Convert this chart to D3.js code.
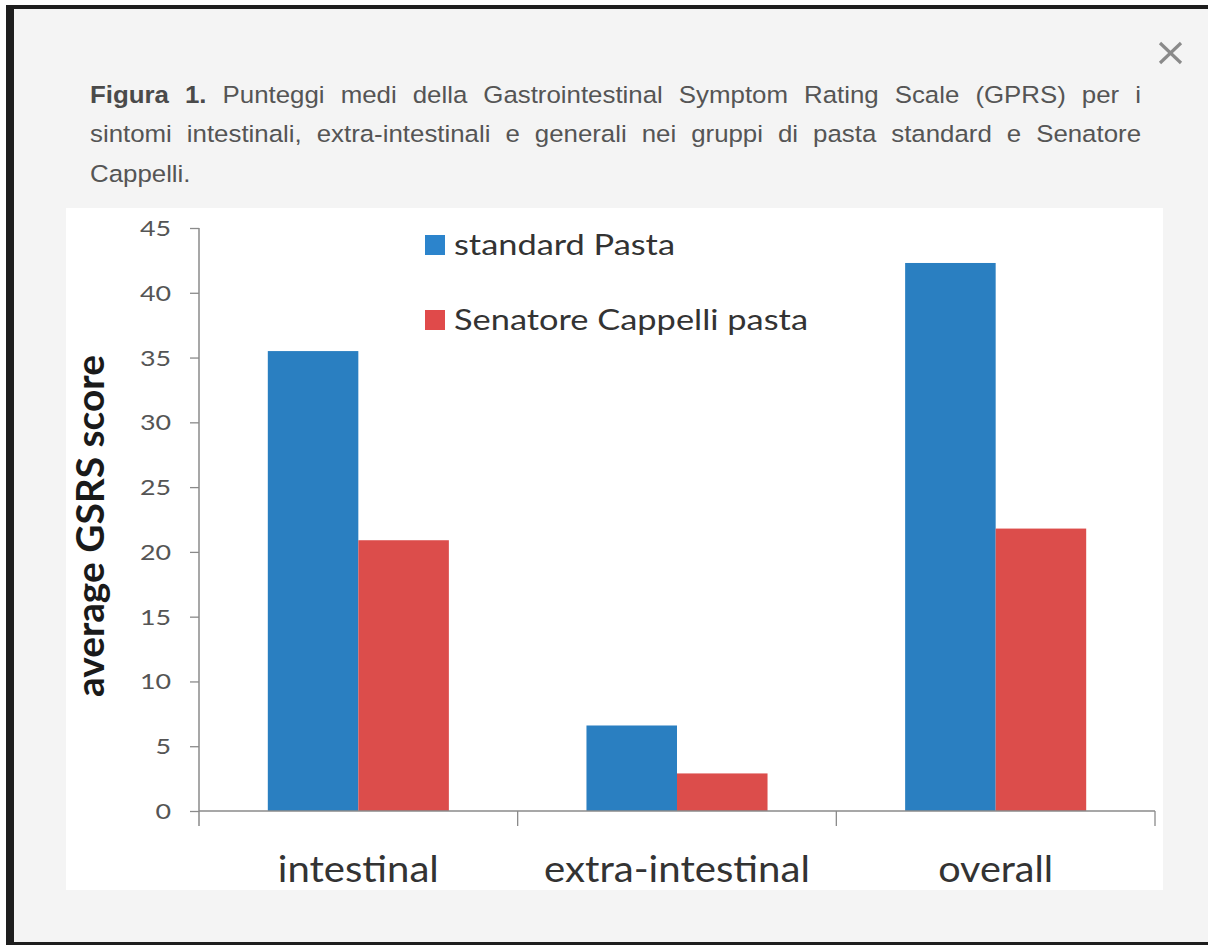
<!DOCTYPE html>
<html>
<head>
<meta charset="utf-8">
<script src="https://cdn.jsdelivr.net/npm/d3@7"></script>
<style>
  html, body { margin: 0; padding: 0; background: #ffffff; }
  svg { display: block; }
</style>
</head>
<body>
<svg id="fig" width="1208" height="945"></svg>
<script>
// ---- data ----
const categories = ["intestinal", "extra-intestinal", "overall"];
const seriesNames = ["standard Pasta", "Senatore Cappelli pasta"];
const standardPasta = [35.5, 6.6, 42.3];
const senatoreCappelli = [20.9, 2.9, 21.8];
const yTicks = [0, 5, 10, 15, 20, 25, 30, 35, 40, 45];
const yTitle = "average GSRS score";
const captionBold = "Figura 1.";
const captionLines = [
  " Punteggi medi della Gastrointestinal Symptom Rating Scale (GPRS) per i",
  "sintomi intestinali, extra-intestinali e generali nei gruppi di pasta standard e Senatore",
  "Cappelli."
];

// ---- styles ----
const seriesColors = ["#2a7fc1", "#dc4d4b"];
const legendColors = ["#2c84cc", "#e04a4a"];
const axisColor = "#8a8a8a";
const chartFont = "Lato, 'Open Sans', sans-serif";
const captionFont = "'Liberation Sans', Arial, sans-serif";

const svg = d3.select("#fig");

// page frame
svg.append("rect").attr("x", 0).attr("y", 0).attr("width", 1208).attr("height", 945).attr("fill", "#ffffff");
svg.append("rect").attr("x", 6).attr("y", 5).attr("width", 1202).attr("height", 940).attr("fill", "#f4f4f4");
svg.append("rect").attr("x", 6).attr("y", 5).attr("width", 1202).attr("height", 4).attr("fill", "#1e1e1e");
svg.append("rect").attr("x", 6).attr("y", 5).attr("width", 8).attr("height", 940).attr("fill", "#1e1e1e");
svg.append("rect").attr("x", 6).attr("y", 942).attr("width", 1202).attr("height", 3).attr("fill", "#1e1e1e");

// close button
const closeG = svg.append("g").attr("stroke", "#8a8a8a").attr("stroke-width", 3.2).attr("stroke-linecap", "butt");
closeG.append("line").attr("x1", 1160).attr("y1", 43).attr("x2", 1181).attr("y2", 63);
closeG.append("line").attr("x1", 1181).attr("y1", 43).attr("x2", 1160).attr("y2", 63);

// caption, justified line by line
const capLeft = 90, capRight = 1141, capStretch = 1.1;
const capBaselines = [103, 142, 182];
captionLines.forEach((line, i) => {
  const g = svg.append("g")
    .attr("transform", `translate(${capLeft},${capBaselines[i]}) scale(${capStretch},1)`);
  const t = g.append("text")
    .attr("x", 0).attr("y", 0)
    .attr("font-family", captionFont)
    .attr("font-size", 23.5)
    .attr("fill", "#555555");
  if (i === 0) {
    t.append("tspan").attr("font-weight", "bold").attr("fill", "#4a4a4a").text(captionBold);
  }
  t.append("tspan").text(line);
  if (i < captionLines.length - 1) {
    const natural = t.node().getComputedTextLength();
    const full = (i === 0 ? captionBold : "") + line;
    const spaces = (full.match(/ /g) || []).length;
    const target = (capRight - capLeft) / capStretch;
    t.attr("word-spacing", (target - natural) / spaces);
  }
});

// chart panel
svg.append("rect").attr("x", 66).attr("y", 208).attr("width", 1097).attr("height", 682).attr("fill", "#ffffff");

// scales
const plotLeft = 199, plotRight = 1155, plotBottom = 811, plotTop = 228;
const x0 = d3.scaleBand().domain(categories).range([plotLeft, plotRight]).paddingInner(0).paddingOuter(0);
const x1 = d3.scaleBand().domain(seriesNames).range([0, x0.bandwidth()]).paddingInner(0).paddingOuter(0.76);
const y = d3.scaleLinear().domain([0, 45]).range([plotBottom, plotTop]);

const seriesValues = [standardPasta, senatoreCappelli];
const rows = categories.map((c, ci) => ({
  category: c,
  values: seriesNames.map((s, si) => ({ series: s, si, value: seriesValues[si][ci] }))
}));

// bars
const groups = svg.append("g").selectAll("g").data(rows).join("g")
  .attr("transform", d => `translate(${x0(d.category)},0)`);
groups.selectAll("rect").data(d => d.values).join("rect")
  .attr("x", d => x1(d.series))
  .attr("y", d => y(d.value))
  .attr("width", x1.bandwidth())
  .attr("height", d => y(0) - y(d.value))
  .attr("fill", d => seriesColors[d.si]);

// y axis
const yAxis = svg.append("g")
  .attr("transform", `translate(${plotLeft},0)`)
  .call(d3.axisLeft(y).tickValues(yTicks).tickSize(9).tickFormat(""));
yAxis.select(".domain").remove();
yAxis.selectAll(".tick line").attr("stroke", axisColor).attr("stroke-width", 1.3);
svg.append("line")
  .attr("x1", plotLeft).attr("x2", plotLeft)
  .attr("y1", plotTop).attr("y2", plotBottom + 15)
  .attr("stroke", axisColor).attr("stroke-width", 1.5);

// y tick labels
svg.append("g").selectAll("text").data(yTicks).join("text")
  .attr("transform", d => `translate(171,${y(d) + 8}) scale(1.22,1)`)
  .attr("text-anchor", "end")
  .attr("font-family", chartFont)
  .attr("font-size", 22)
  .attr("fill", "#555555")
  .text(d => d);

// x axis with category separators
svg.append("line")
  .attr("x1", plotLeft).attr("x2", plotRight)
  .attr("y1", plotBottom).attr("y2", plotBottom)
  .attr("stroke", axisColor).attr("stroke-width", 1.5);
const boundaries = categories.map(c => x0(c) + x0.bandwidth()).slice(0);
svg.append("g").selectAll("line").data(boundaries).join("line")
  .attr("x1", d => d).attr("x2", d => d)
  .attr("y1", plotBottom).attr("y2", plotBottom + 15)
  .attr("stroke", axisColor).attr("stroke-width", 1.3);

// category labels
const catWidths = { "intestinal": 161, "extra-intestinal": 266, "overall": 115 };
svg.append("g").selectAll("text").data(categories).join("text")
  .attr("x", d => x0(d) + x0.bandwidth() / 2 - catWidths[d] / 2)
  .attr("y", 882)
  .attr("font-family", chartFont)
  .attr("font-size", 36)
  .attr("fill", "#333333")
  .attr("textLength", d => catWidths[d])
  .attr("lengthAdjust", "spacingAndGlyphs")
  .text(d => d);

// y axis title
svg.append("text")
  .attr("transform", "translate(104,526) rotate(-90)")
  .attr("x", -171).attr("y", 0)
  .attr("font-family", chartFont)
  .attr("font-weight", "bold")
  .attr("font-size", 38)
  .attr("fill", "#1a1a1a")
  .attr("textLength", 342)
  .attr("lengthAdjust", "spacingAndGlyphs")
  .text(yTitle);

// legend
const legendWidths = [221, 354];
const legend = svg.append("g").selectAll("g").data(seriesNames).join("g")
  .attr("transform", (d, i) => `translate(425,${235 + i * 75})`);
legend.append("rect").attr("x", 0).attr("y", 0).attr("width", 20).attr("height", 20)
  .attr("fill", (d, i) => legendColors[i]);
legend.append("text")
  .attr("x", 29).attr("y", 20)
  .attr("font-family", chartFont)
  .attr("font-size", 29)
  .attr("fill", "#333333")
  .attr("textLength", (d, i) => legendWidths[i])
  .attr("lengthAdjust", "spacingAndGlyphs")
  .text(d => d);
</script>
</body>
</html>
